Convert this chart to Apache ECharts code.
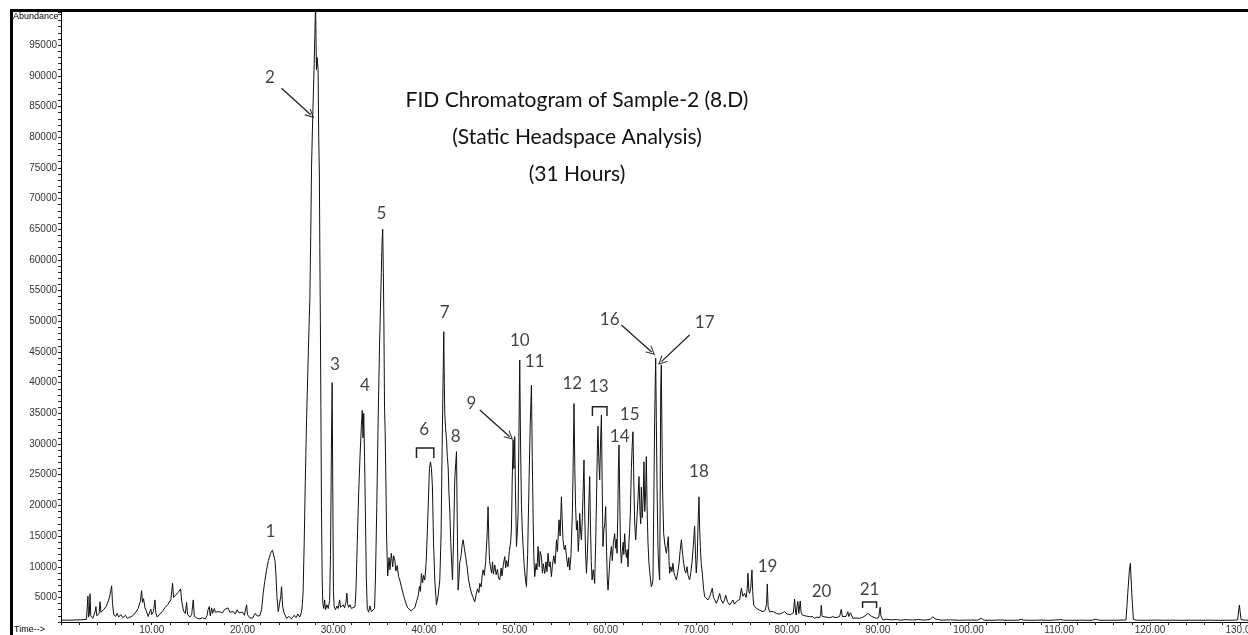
<!DOCTYPE html>
<html>
<head>
<meta charset="utf-8">
<script src="https://cdn.jsdelivr.net/npm/echarts@6/dist/echarts.min.js"></script>
<style>
  html, body { margin: 0; padding: 0; background: #fff; }
  #chart { width: 1248px; height: 635px; }
</style>
</head>
<body>
<div id="chart"></div>
<script>
// retention time (min) vs abundance
const earlyTrace = [
  [0, 1300], [1.0, 1300], [2.0, 1350], [2.8, 1400], [2.9, 1500], [2.97, 5200], [3.03, 1800], [3.12, 2200],
  [3.2, 5600], [3.28, 2000], [3.5, 1600], [3.75, 2600], [3.85, 3500], [3.95, 2000], [4.2, 2400], [4.3, 4300],
  [4.4, 2600], [4.7, 3000], [5.0, 3600], [5.3, 4800], [5.5, 6200], [5.58, 6900], [5.68, 4000], [5.8, 2300],
  [6.0, 1900], [6.2, 2400], [6.35, 1800], [6.6, 2200], [6.8, 1700], [7.1, 2100], [7.3, 1600], [7.6, 1800],
  [7.9, 2000], [8.2, 2500], [8.5, 3200], [8.75, 4400], [8.88, 6100], [8.98, 4200], [9.1, 4800], [9.25, 3300],
  [9.4, 2800], [9.6, 1900], [9.75, 2200], [9.9, 3100], [10.0, 2200], [10.2, 2800], [10.35, 4600], [10.45, 2500],
  [10.6, 1800], [10.9, 2300], [11.2, 2800], [11.5, 3400], [11.8, 3900], [12.1, 4600], [12.3, 7300], [12.4, 5000],
  [12.6, 5200], [12.9, 5800], [13.18, 6400], [13.3, 4400], [13.5, 2800], [13.7, 2400], [13.84, 4200], [13.95, 2200],
  [14.2, 1800], [14.4, 2200], [14.57, 4600], [14.7, 1900], [15.0, 1600], [15.3, 1500], [15.6, 1700], [15.9, 1500],
  [16.1, 2100], [16.2, 3000], [16.34, 3500], [16.45, 2000], [16.6, 3300], [16.7, 2400], [16.9, 3200], [17.0, 2600],
  [17.2, 2900], [17.4, 2700], [17.6, 2800], [17.8, 2500], [18.0, 3000], [18.2, 2700], [18.4, 3300], [18.6, 2600],
  [18.8, 2400], [19.0, 2700], [19.2, 2300], [19.4, 3000], [19.6, 2500], [19.8, 2200], [20.0, 2600], [20.2, 2100],
  [20.45, 3800], [20.55, 2200], [20.8, 1700], [21.1, 1600], [21.4, 2400], [21.6, 2000], [21.9, 2000], [22.1, 3000],
  [22.28, 5700], [22.45, 7600], [22.65, 9500], [22.85, 11000], [23.09, 12200], [23.3, 12700], [23.46, 13000],
  [23.58, 11000], [23.68, 8900], [23.8, 5000], [23.94, 2700], [24.1, 3000], [24.22, 5200], [24.3, 6750],
  [24.42, 3600], [24.56, 2600], [24.85, 1600], [25.1, 1900], [25.4, 1500], [25.7, 2100], [25.9, 1700],
  [26.1, 2300], [26.3, 1800], [26.5, 2600]
];

const mainPeaksTrace = [
  [26.6, 4000], [26.68, 6000], [26.8, 14000], [26.92, 24000], [27.06, 33900], [27.2, 42000], [27.32, 48500],
  [27.42, 53500], [27.52, 64000], [27.61, 75300], [27.7, 81000], [27.79, 86100], [27.9, 92000], [27.98, 97000],
  [28.05, 102000], [28.1, 96000], [28.15, 91000], [28.22, 93000], [28.33, 91000], [28.4, 80000], [28.47, 74000],
  [28.52, 62000], [28.58, 50000], [28.64, 36000], [28.7, 20000], [28.78, 8000], [28.85, 4000], [28.95, 3200],
  [29.05, 4600], [29.15, 3000], [29.3, 3800], [29.45, 3200], [29.6, 4500], [29.7, 12000], [29.8, 30000],
  [29.88, 40000], [29.95, 22000], [30.02, 6000], [30.1, 3500], [30.25, 3000], [30.4, 3600], [30.55, 3200],
  [30.7, 4600], [30.8, 3400], [30.95, 3300], [31.1, 3800], [31.25, 3300], [31.4, 4200], [31.5, 5700],
  [31.58, 4000], [31.7, 3400], [31.85, 3800], [32.0, 3200], [32.2, 3000], [32.4, 3500], [32.5, 6000],
  [32.65, 14000], [32.8, 22000], [32.95, 28000], [33.1, 33000], [33.2, 35500], [33.28, 31000], [33.36, 35000],
  [33.45, 28000], [33.55, 18000], [33.65, 8000], [33.75, 3200], [33.9, 2600], [34.05, 3600], [34.2, 2700],
  [34.4, 2500], [34.55, 3200], [34.65, 8000], [34.8, 20000], [34.95, 34000], [35.1, 46000], [35.2, 52000],
  [35.3, 58000], [35.38, 63000], [35.45, 65000], [35.52, 58000], [35.58, 50000], [35.65, 36000], [35.72, 32000],
  [35.8, 24000], [35.88, 15000], [35.95, 11000]
];

const humpTrace = [
  [36.0, 8500], [36.15, 11500], [36.25, 9500], [36.4, 12200], [36.55, 10000], [36.65, 11800], [36.78, 11100],
  [36.9, 9300], [37.05, 10200], [37.2, 8400], [37.33, 7850], [37.5, 6800], [37.7, 5600], [37.89, 4600],
  [38.05, 3900], [38.2, 3300], [38.4, 3000], [38.6, 2800], [38.8, 2700], [39.0, 3400], [39.17, 4300],
  [39.35, 5200], [39.5, 6800], [39.6, 6000], [39.72, 8900], [39.85, 7400], [39.95, 8600], [40.09, 7850],
  [40.25, 11000], [40.45, 19250], [40.6, 26000], [40.71, 27100], [40.82, 26000], [40.93, 23000], [41.05, 14000],
  [41.19, 7850], [41.37, 3800], [41.55, 5200], [41.74, 7850], [41.88, 15000], [42.0, 29600], [42.1, 40000],
  [42.18, 48300], [42.24, 40000], [42.29, 35000], [42.38, 32500], [42.48, 30700], [42.57, 28000], [42.66, 26300],
  [42.75, 22000], [42.84, 19250], [42.95, 14000], [43.05, 10500], [43.14, 7850], [43.25, 14000], [43.39, 24150],
  [43.5, 27000], [43.58, 28760], [43.66, 18000], [43.76, 6200], [43.85, 8000], [43.94, 10600], [44.1, 12000],
  [44.2, 13500], [44.31, 14400], [44.45, 13000], [44.6, 11500], [44.75, 10000], [44.9, 8000], [45.05, 6800],
  [45.23, 5700], [45.4, 5000], [45.59, 4300], [45.75, 5500], [45.9, 6400], [46.05, 5800], [46.15, 7300],
  [46.3, 6700], [46.4, 8500], [46.51, 9500], [46.65, 8600], [46.8, 11000], [46.95, 15000], [47.06, 19800],
  [47.15, 14000], [47.22, 11000], [47.32, 10000], [47.45, 9000], [47.55, 10800], [47.65, 8800], [47.8, 10300],
  [47.95, 8700], [48.1, 9600], [48.2, 8200], [48.35, 7850], [48.5, 9800], [48.6, 8500], [48.75, 10400],
  [48.9, 11650], [49.0, 9800], [49.1, 11000], [49.26, 10000], [49.4, 12500], [49.55, 14000], [49.63, 16000],
  [49.72, 24000], [49.82, 30700], [49.9, 26000], [50.0, 31200], [50.08, 22000], [50.19, 13300], [50.28, 15500],
  [50.37, 18700], [50.45, 30000], [50.55, 43700], [50.64, 30000], [50.74, 20000], [50.83, 16000], [50.92, 13300],
  [51.05, 10000], [51.18, 8000], [51.29, 6750], [51.42, 12000], [51.58, 24150], [51.7, 33000], [51.84, 39600],
  [51.93, 28000], [52.02, 18700], [52.1, 12000], [52.2, 8400], [52.35, 10500], [52.45, 9500], [52.57, 13300],
  [52.7, 10000], [52.8, 12500], [52.94, 11650], [53.05, 9000], [53.15, 10500], [53.3, 8900], [53.45, 10800],
  [53.55, 9200], [53.67, 12200], [53.8, 10000], [53.9, 10800], [54.04, 8400], [54.15, 10200], [54.3, 11800],
  [54.45, 10500], [54.6, 14400], [54.7, 12500], [54.88, 17650], [55.0, 15000], [55.14, 21400], [55.22, 18000],
  [55.32, 14400], [55.45, 12800], [55.58, 13500], [55.7, 11650], [55.85, 10000], [55.95, 11500], [56.06, 9480],
  [56.2, 12000], [56.35, 18700], [56.45, 28000], [56.53, 36600], [56.62, 26000], [56.7, 20000], [56.8, 16000],
  [56.9, 17500], [57.0, 12500], [57.08, 14500], [57.16, 18700], [57.25, 16000], [57.34, 14400], [57.45, 18000],
  [57.55, 23000], [57.63, 27400], [57.72, 18000], [57.8, 12500], [57.9, 8940], [58.0, 12000], [58.1, 16500],
  [58.18, 21000], [58.26, 24700], [58.35, 16000], [58.43, 11000], [58.52, 7850], [58.65, 9500], [58.81, 7300],
  [58.92, 14000], [59.02, 22000], [59.1, 29000], [59.17, 32900], [59.25, 28000], [59.36, 24150], [59.45, 30000],
  [59.55, 34700], [59.63, 24000], [59.72, 13300], [59.82, 16000], [59.92, 17000], [60.02, 19800], [60.12, 12500],
  [60.2, 8000], [60.28, 6200], [60.4, 9000], [60.5, 11500], [60.65, 13300], [60.75, 11000], [60.88, 14000],
  [61.01, 15400], [61.12, 13000], [61.2, 14500], [61.27, 12200], [61.35, 18000], [61.42, 26000], [61.49, 29850],
  [61.58, 20000], [61.66, 13000], [61.75, 10570], [61.85, 12500], [61.95, 14000], [62.02, 12000], [62.11, 15400],
  [62.2, 13000], [62.3, 11500], [62.4, 12800], [62.48, 10000], [62.58, 14000], [62.66, 16000], [62.74, 18700],
  [62.85, 26000], [62.95, 30000], [63.03, 32000], [63.12, 24000], [63.22, 17000], [63.33, 14400], [63.45, 17500],
  [63.58, 21000], [63.69, 24700], [63.8, 19000], [63.88, 17000], [63.95, 23000], [64.05, 18000], [64.15, 21000],
  [64.24, 27100], [64.33, 19000], [64.42, 22000], [64.5, 27950], [64.58, 20000], [64.68, 14000], [64.79, 10570],
  [64.92, 8500], [65.05, 6750], [65.15, 7200], [65.23, 7850], [65.32, 20000], [65.42, 34100], [65.53, 43970],
  [65.6, 34000], [65.67, 24150], [65.78, 13300], [65.88, 9500], [65.97, 7850], [66.02, 20000], [66.08, 38300],
  [66.15, 42900], [66.22, 32000], [66.3, 22000], [66.41, 15400], [66.55, 13500], [66.71, 12200], [66.82, 13500],
  [66.92, 14900], [67.0, 11000], [67.07, 8940], [67.2, 10000], [67.32, 9200], [67.43, 10570], [67.55, 9000],
  [67.68, 8400], [67.81, 7850], [67.95, 9000], [68.1, 10500], [68.22, 12500], [68.36, 14400], [68.5, 12000],
  [68.6, 10800], [68.72, 9480], [68.85, 9000], [68.98, 10000], [69.1, 8600], [69.27, 7850], [69.4, 9000],
  [69.55, 11000], [69.68, 13500], [69.82, 16600], [69.92, 12000], [70.0, 9000], [70.1, 11000], [70.2, 17000],
  [70.3, 21400], [70.38, 16000]
];

const tailTrace = [
  [70.45, 13300], [70.55, 10500], [70.67, 8940], [70.8, 6500], [70.93, 5100], [71.1, 4800], [71.29, 4600],
  [71.5, 5200], [71.65, 5000], [71.77, 6500], [71.9, 5000], [72.05, 4600], [72.21, 4050], [72.4, 4700],
  [72.58, 5660], [72.75, 4600], [72.94, 4050], [73.1, 4500], [73.24, 5400], [73.45, 4300], [73.68, 3770],
  [73.85, 4000], [74.04, 4590], [74.2, 3900], [74.42, 4320], [74.6, 4000], [74.8, 4700], [74.97, 6500],
  [75.15, 5200], [75.33, 5660], [75.5, 5000], [75.62, 6500], [75.7, 8940], [75.8, 6000], [75.88, 5660],
  [76.0, 6500], [76.14, 9480], [76.22, 6000], [76.32, 3770], [76.45, 3500], [76.62, 3230], [76.8, 3000],
  [77.0, 2900], [77.2, 3000], [77.35, 2680], [77.6, 2900], [77.75, 4000], [77.83, 7200], [77.92, 3500],
  [78.08, 2680], [78.3, 2500], [78.5, 2700], [78.82, 2410], [79.0, 2600], [79.2, 2300], [79.5, 2500],
  [79.74, 2680], [80.0, 2300], [80.1, 2140], [80.4, 2200], [80.7, 2500], [80.84, 4700], [80.95, 2600],
  [81.02, 2140], [81.1, 3500], [81.2, 4320], [81.3, 2400], [81.46, 4420], [81.55, 2600], [81.68, 2140],
  [82.0, 2000], [82.49, 1870], [82.8, 1900], [83.04, 1600], [83.3, 1800], [83.6, 1700], [83.7, 2200],
  [83.78, 3720], [83.88, 1900], [83.95, 1600], [84.3, 1800], [84.7, 1700], [85.06, 1870], [85.4, 1700],
  [85.8, 1900], [85.98, 3070], [86.1, 1900], [86.16, 1700], [86.5, 1900], [86.71, 2680], [86.8, 1900],
  [87.0, 2500], [87.26, 1600], [87.6, 1650], [88.0, 1600], [88.36, 1780], [88.6, 2000], [88.8, 2200],
  [88.91, 2410], [89.05, 2100], [89.28, 1950], [89.5, 1800], [89.83, 1600], [90.1, 1700], [90.2, 2800],
  [90.27, 3400], [90.35, 2000], [90.56, 1330], [91.0, 1450], [91.5, 1350], [92.03, 1400], [92.5, 1300],
  [93.0, 1380], [93.87, 1330], [94.5, 1400], [95.2, 1300], [95.8, 1450], [96.07, 1870], [96.3, 1500],
  [96.44, 1330], [97.0, 1300], [98.0, 1350], [99.0, 1280], [100.0, 1320], [101.0, 1300], [101.4, 1600],
  [101.7, 1300], [102.5, 1280], [103.5, 1330], [104.5, 1270], [105.5, 1300], [105.8, 1440], [106.1, 1300],
  [107.0, 1280], [108.0, 1310], [109.0, 1270], [110.2, 1400], [110.5, 1290], [111.5, 1280], [112.5, 1300],
  [113.5, 1270], [114.06, 1450], [114.4, 1290], [115.5, 1280], [116.5, 1300], [117.36, 1330], [117.55, 5680],
  [117.73, 9480], [117.84, 10570], [117.99, 5680], [118.17, 1400], [118.5, 1300], [119.5, 1280], [120.5, 1310],
  [121.5, 1280], [122.5, 1300], [123.5, 1270], [124.5, 1300], [125.5, 1280], [126.5, 1300], [127.5, 1270],
  [128.5, 1290], [129.3, 1300], [129.66, 1350], [129.85, 3770], [130.03, 1400], [130.5, 1300], [130.8, 1290]
];

// peak numbers: [text, time, abundance]
const peakLabels = [
  ['1', 23.09, 15720], ['2', 23.02, 89800], ['3', 30.18, 42900], ['4', 33.48, 39470], ['5', 35.32, 67620],
  ['6', 40.01, 32300], ['7', 42.29, 51400], ['8', 43.5, 31300], ['9', 45.23, 36530], ['10', 50.55, 46850],
  ['11', 52.2, 43430], ['12', 56.35, 39800], ['13', 59.25, 39350], ['14', 61.56, 31200], ['15', 62.67, 34740],
  ['16', 60.46, 50230], ['17', 70.93, 49740], ['18', 70.3, 25600], ['19', 77.86, 9990], ['20', 83.81, 5890],
  ['21', 89.1, 6220]
];

// arrows: [fromTime, fromAbundance, toTime, toAbundance]
const peakArrows = [
  [24.3, 87990, 27.52, 83640],
  [46.15, 35560, 49.45, 31200],
  [61.75, 49410, 65.09, 45010],
  [69.27, 47780, 66.16, 43430]
];

// brackets: [startTime, endTime, topAbundance, legAbundance]
const peakBrackets = [
  [39.17, 41.08, 29360, 27730],
  [58.56, 60.16, 36090, 34580],
  [88.33, 89.87, 4260, 3280]
];

const timeTicks = [10, 20, 30, 40, 50, 60, 70, 80, 90, 100, 110, 120, 130];
const abundanceTicks = [5000, 10000, 15000, 20000, 25000, 30000, 35000, 40000, 45000, 50000,
  55000, 60000, 65000, 70000, 75000, 80000, 85000, 90000, 95000];

const titleLines = ['FID Chromatogram of Sample-2 (8.D)', '(Static Headspace Analysis)', '(31 Hours)'];

const chart = echarts.init(document.getElementById('chart'));
const ink = '#111';
const trace = earlyTrace.concat(mainPeaksTrace, humpTrace, tailTrace);

const option = {
  animation: false,
  backgroundColor: '#fff',
  grid: { left: 61, top: 12, right: 0, bottom: 13, containLabel: false, outerBoundsMode: 'none' },
  xAxis: {
    type: 'value', min: 0, max: 130.8, interval: 2,
    axisLine: { lineStyle: { color: '#000', width: 1 } },
    axisTick: { length: 3, lineStyle: { color: '#222' } },
    axisLabel: {
      margin: 3, fontSize: 10, color: '#333', fontFamily: 'Liberation Sans',
      formatter: (v) => timeTicks.includes(v) ? v.toFixed(2) : ''
    },
    splitLine: { show: false }
  },
  yAxis: {
    type: 'value', min: 1000, max: 100400, interval: 1000,
    axisLine: { lineStyle: { color: '#000', width: 1 } },
    axisTick: { length: 3, lineStyle: { color: '#222' } },
    axisLabel: {
      margin: 4, fontSize: 10, color: '#333', fontFamily: 'Liberation Sans',
      formatter: (v) => abundanceTicks.includes(v) ? String(v) : ''
    },
    splitLine: { show: false }
  },
  graphic: [
    { type: 'rect', shape: { x: 11.5, y: 10.5, width: 1300, height: 700 },
      style: { fill: 'none', stroke: '#000', lineWidth: 3 }, z: 100 },
    { type: 'text', left: 13, top: 12,
      style: { text: 'Abundance', font: '9px "Liberation Sans"', fill: '#000' } },
    { type: 'text', left: 14, top: 625,
      style: { text: 'Time-->', font: '9px "Liberation Sans"', fill: '#000' } },
    ...titleLines.map((t, i) => ({
      type: 'text', x: 577, y: 100 + i * 37,
      style: { text: t, font: '21px Lato', fill: '#111', align: 'center', verticalAlign: 'middle' }
    }))
  ],
  series: [
    {
      type: 'line', data: trace, showSymbol: false, symbol: 'none',
      lineStyle: { color: ink, width: 1 }, clip: true, z: 2
    },
    {
      type: 'scatter', data: peakLabels.map((p) => [p[1], p[2], p[0]]),
      symbolSize: 1, itemStyle: { color: 'rgba(0,0,0,0)' }, z: 5,
      label: {
        show: true, position: 'inside', formatter: (p) => p.data[2],
        fontSize: 17, fontFamily: 'Lato', color: '#111'
      }
    },
    {
      type: 'lines', coordinateSystem: 'cartesian2d', z: 5,
      symbol: ['none', 'path://M5,0L10,10L8.8,10L5,2.4L1.2,10L0,10Z'], symbolSize: [9, 9],
      lineStyle: { color: '#222', width: 1.3, opacity: 1 },
      itemStyle: { color: '#222' },
      data: peakArrows.map((a) => ({ coords: [[a[0], a[1]], [a[2], a[3]]] }))
    },
    {
      type: 'lines', coordinateSystem: 'cartesian2d', polyline: true, z: 5,
      lineStyle: { color: '#222', width: 1.5, opacity: 1 },
      data: peakBrackets.map((b) => ({ coords: [[b[0], b[3]], [b[0], b[2]], [b[1], b[2]], [b[1], b[3]]] }))
    }
  ]
};

chart.setOption(option);
</script>
</body>
</html>
